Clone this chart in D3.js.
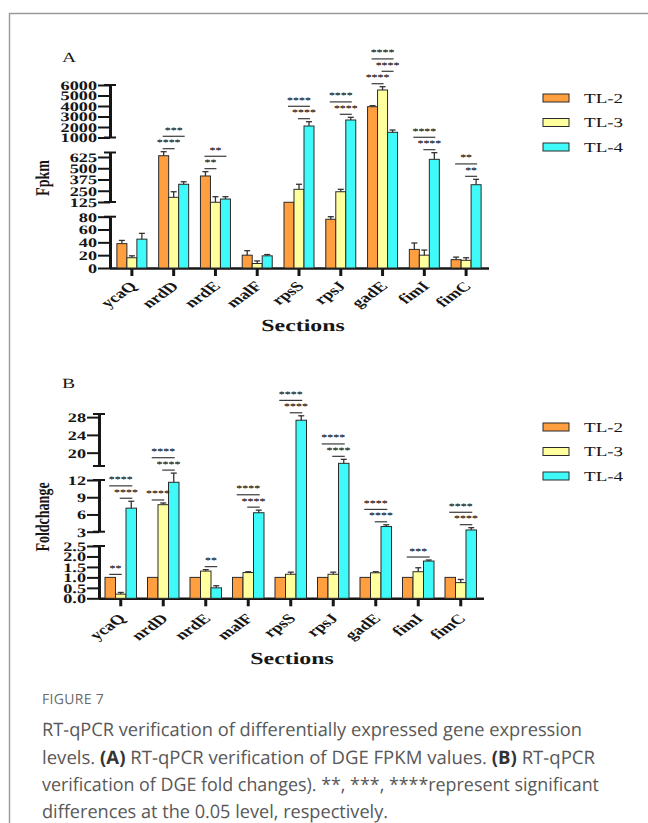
<!DOCTYPE html>
<html>
<head>
<meta charset="utf-8">
<script src="https://cdn.jsdelivr.net/npm/d3@7"></script>
<style>
  body { margin: 0; background: #fff; }
  svg { display: block; }
  text { text-rendering: geometricPrecision; -webkit-font-smoothing: antialiased; }
</style>
</head>
<body>
<svg id="fig" width="648" height="823"></svg>
<script>
// ---------- data ----------
const categories = ["ycaQ", "nrdD", "nrdE", "malF", "rpsS", "rpsJ", "gadE", "fimI", "fimC"];
const seriesNames = ["TL-2", "TL-3", "TL-4"];

// Panel A: FPKM (mean and SD)
const fpkmTL2 = [38, 639, 414, 20, 122, 76, 3933, 29, 13];
const fpkmTL3 = [16, 177, 122, 7, 266, 239, 5524, 20, 12];
const fpkmTL4 = [45, 322, 158, 19, 2095, 2667, 1495, 599, 317];
const fpkmSdTL2 = [5, 45, 48, 7, 0, 4, 96, 10, 4];
const fpkmSdTL3 = [3, 62, 62, 4, 56, 27, 314, 8, 4];
const fpkmSdTL4 = [9, 28, 26, 2, 410, 257, 219, 74, 60];

// Panel A broken y axis: segment domains (top to bottom) and tick values
const fpkmBreaks = [[1000, 6000], [125, 675], [0, 80]];
const fpkmTicks = [[1000, 2000, 3000, 4000, 5000, 6000], [125, 250, 375, 500, 625], [0, 20, 40, 60, 80]];

// Panel B: fold change (mean and SD)
const foldTL2 = [1, 1, 1, 1, 1, 1, 1, 1, 1];
const foldTL3 = [0.2, 7.7, 1.3, 1.23, 1.15, 1.15, 1.22, 1.27, 0.75];
const foldTL4 = [7.1, 11.6, 0.5, 6.3, 27.3, 17.6, 3.9, 1.78, 3.3];
const foldSdTL2 = [0, 0, 0, 0, 0, 0, 0, 0, 0];
const foldSdTL3 = [0.08, 0.3, 0.07, 0.04, 0.1, 0.1, 0.05, 0.19, 0.15];
const foldSdTL4 = [1.2, 1.6, 0.1, 0.45, 1.0, 0.9, 0.3, 0.05, 0.4];

const foldBreaks = [[17, 28.7], [3, 12], [0, 2.5]];
const foldTicks = [[20, 24, 28], [3, 6, 9, 12], [0, 0.5, 1.0, 1.5, 2.0, 2.5]];

// Significance marks: [gene, compared pair, stars]; pair "12" = TL-2 vs TL-3, "23" = TL-3 vs TL-4, "13" = TL-2 vs TL-4
const fpkmSig = [
  ["nrdD", "12", "****"], ["nrdD", "13", "***"],
  ["nrdE", "12", "**"], ["nrdE", "13", "**"],
  ["rpsS", "23", "****"], ["rpsS", "13", "****"],
  ["rpsJ", "23", "****"], ["rpsJ", "13", "****"],
  ["gadE", "12", "****"], ["gadE", "23", "****"], ["gadE", "13", "****"],
  ["fimI", "23", "****"], ["fimI", "13", "****"],
  ["fimC", "23", "**"], ["fimC", "13", "**"]
];
const foldSig = [
  ["ycaQ", "12", "**"], ["ycaQ", "23", "****"], ["ycaQ", "13", "****"],
  ["nrdD", "12", "****"], ["nrdD", "23", "****"], ["nrdD", "13", "****"],
  ["nrdE", "23", "**"],
  ["malF", "23", "****"], ["malF", "13", "****"],
  ["rpsS", "23", "****"], ["rpsS", "13", "****"],
  ["rpsJ", "23", "****"], ["rpsJ", "13", "****"],
  ["gadE", "23", "****"], ["gadE", "13", "****"],
  ["fimI", "13", "***"],
  ["fimC", "23", "****"], ["fimC", "13", "****"]
];

// ---------- styling ----------
const colors = ["#FF9F40", "#FFFF9E", "#40FAFA"];
const SERIF = "'Liberation Serif', 'Times New Roman', serif";
const SX = 1.4;           // horizontal stretch applied to all chart lettering
const INK = "#161616";

const svg = d3.select("#fig");
svg.append("rect").attr("width", 648).attr("height", 823).attr("fill", "#fff");
svg.append("path").attr("d", "M9.5,823 V13.5 H648").attr("fill", "none")
  .attr("stroke", "#9a9a9a").attr("stroke-width", 1.4);

function stretch(x, y, rot) {
  return `translate(${x},${y}) scale(${SX},1)` + (rot ? ` rotate(${rot})` : "");
}

function segmentedScale(breaks, ranges) {
  const scales = breaks.map((d, i) => d3.scaleLinear().domain(d).range(ranges[i]));
  const f = v => {
    let best = 0, bestD = Infinity;
    breaks.forEach((d, i) => {
      const dist = v < d[0] ? d[0] - v : v > d[1] ? v - d[1] : 0;
      if (dist < bestD) { bestD = dist; best = i; }
    });
    return scales[best](v);
  };
  f.parts = scales;
  return f;
}

function drawPanel(p) {
  const g = svg.append("g");
  const y = segmentedScale(p.breaks, p.ranges);
  const base = p.ranges[p.ranges.length - 1][0];

  const x0 = d3.scaleBand().domain(categories).range(p.xRange);
  const x1 = d3.scaleBand().domain(seriesNames).range([-1.5 * p.barW, 1.5 * p.barW]);
  const cx = c => x0(c) + x0.bandwidth() / 2;
  const barMid = (c, s) => cx(c) + x1(s) + x1.bandwidth() / 2;

  // y axis segments
  p.breaks.forEach((d, i) => {
    const sc = y.parts[i];
    const ax = g.append("g").attr("transform", `translate(${p.axisX},0)`)
      .call(d3.axisLeft(sc).tickValues(p.ticks[i]).tickFormat(p.fmt[i])
        .tickSizeInner(12).tickSizeOuter(0).tickPadding(0));
    ax.attr("font-family", SERIF).attr("font-size", 13).attr("font-weight", "bold");
    ax.select(".domain").attr("stroke", INK).attr("stroke-width", 3);
    ax.selectAll(".tick line").attr("stroke", INK).attr("stroke-width", 2);
    ax.selectAll(".tick text").attr("x", 0).attr("dy", "0.34em").attr("fill", INK)
      .attr("transform", stretch(-13, 0));
    // end caps of each segment
    const ends = i === p.breaks.length - 1 ? [d[1]] : d;
    ends.forEach(v => {
      g.append("line").attr("x1", p.axisX - 6).attr("x2", p.axisX + 6)
        .attr("y1", sc(v)).attr("y2", sc(v)).attr("stroke", INK).attr("stroke-width", 2);
    });
  });

  // x axis
  const xa = g.append("g").attr("transform", `translate(0,${base})`)
    .call(d3.axisBottom(x0).tickSizeInner(8).tickSizeOuter(0));
  xa.attr("font-family", SERIF).attr("font-size", 13.5).attr("font-weight", "bold");
  xa.select(".domain").attr("stroke", INK).attr("stroke-width", 2.5)
    .attr("d", `M${p.axisX},0.5H${p.xRange[1] + 2}`);
  xa.selectAll(".tick line").attr("stroke", INK).attr("stroke-width", 3);
  xa.selectAll(".tick text").attr("x", 0).attr("y", 0).attr("dy", null)
    .attr("text-anchor", "end").attr("fill", INK)
    .attr("transform", stretch(6, p.catLabelDy, -45));

  // bars
  const rows = categories.map((c, i) => ({ c, vals: p.values.map(v => v[i]), sds: p.sds.map(v => v[i]) }));
  const grp = g.append("g").selectAll("g").data(rows).join("g");
  grp.selectAll("rect").data(r => seriesNames.map((s, k) => ({ c: r.c, s, k, v: r.vals[k], sd: r.sds[k] })))
    .join("rect")
    .attr("x", d => cx(d.c) + x1(d.s))
    .attr("width", x1.bandwidth())
    .attr("y", d => y(d.v))
    .attr("height", d => base - y(d.v))
    .attr("fill", d => colors[d.k])
    .attr("stroke", "#2a2a2a").attr("stroke-width", 1);

  // error bars (upper half)
  const errTop = {};
  rows.forEach(r => {
    errTop[r.c] = r.vals.map((v, k) => y(v + r.sds[k]));
    r.vals.forEach((v, k) => {
      if (r.sds[k] <= 0) return;
      const xm = barMid(r.c, seriesNames[k]);
      const yt = y(v + r.sds[k]);
      g.append("line").attr("x1", xm).attr("x2", xm).attr("y1", y(v)).attr("y2", yt)
        .attr("stroke", "#333").attr("stroke-width", 1.3);
      g.append("line").attr("x1", xm - 3).attr("x2", xm + 3).attr("y1", yt).attr("y2", yt)
        .attr("stroke", "#333").attr("stroke-width", 1.3);
    });
  });

  // significance brackets, stacked above the bars they compare
  const placed = [];
  const order = { "12": 0, "23": 1, "13": 2 };
  p.sig.slice().sort((a, b) => categories.indexOf(a[0]) - categories.indexOf(b[0]) || order[a[1]] - order[b[1]])
    .forEach(([c, pair, stars]) => {
      const a = +pair[0] - 1, b = +pair[1] - 1;
      const xa1 = barMid(c, seriesNames[a]) - 1, xb1 = barMid(c, seriesNames[b]) + 1;
      let ly = d3.min(errTop[c].slice(a, b + 1)) - 3;
      placed.filter(q => q.c === c && q.x1 <= xb1 && q.x2 >= xa1)
        .forEach(q => { ly = Math.min(ly, q.y - 12.4); });
      placed.push({ c, x1: xa1, x2: xb1, y: ly });
      g.append("line").attr("x1", xa1).attr("x2", xb1).attr("y1", ly).attr("y2", ly)
        .attr("stroke", "#3a3a3a").attr("stroke-width", 1.2);
      g.append("text").text(stars).attr("text-anchor", "middle")
        .attr("font-family", SERIF).attr("font-size", 8.5).attr("font-weight", "bold").attr("fill", "#222")
        .attr("transform", stretch((xa1 + xb1) / 2, ly - 3.5));
    });

  // titles
  g.append("text").text(p.label).attr("font-family", SERIF).attr("font-size", 14).attr("fill", INK)
    .attr("transform", stretch(p.labelPos[0], p.labelPos[1]));
  g.append("text").text(p.yTitle).attr("text-anchor", "middle").attr("dy", "0.35em")
    .attr("font-family", SERIF).attr("font-size", 14).attr("font-weight", "bold").attr("fill", INK)
    .attr("transform", stretch(p.yTitlePos[0], p.yTitlePos[1], -90));
  g.append("text").text("Sections").attr("text-anchor", "middle")
    .attr("font-family", SERIF).attr("font-size", 17).attr("font-weight", "bold").attr("fill", INK)
    .attr("transform", stretch(p.xTitlePos[0], p.xTitlePos[1]));

  // legend
  seriesNames.forEach((s, k) => {
    const ly = p.legendY[k];
    g.append("rect").attr("x", 543).attr("y", ly - 4).attr("width", 26).attr("height", 8)
      .attr("fill", colors[k]).attr("stroke", "#2a2a2a").attr("stroke-width", 1);
    g.append("text").text(s).attr("font-family", SERIF).attr("font-size", 13.6).attr("fill", INK)
      .attr("transform", stretch(584, ly + 4.6));
  });
}

drawPanel({
  breaks: fpkmBreaks, ticks: fpkmTicks,
  ranges: [[137.5, 85], [202, 152.5], [268, 216.7]],
  fmt: [d3.format("d"), d3.format("d"), d3.format("d")],
  xRange: [111, 487], axisX: 110, barW: 10, catLabelDy: 19,
  values: [fpkmTL2, fpkmTL3, fpkmTL4], sds: [fpkmSdTL2, fpkmSdTL3, fpkmSdTL4],
  sig: fpkmSig,
  label: "A", labelPos: [62, 62],
  yTitle: "Fpkm", yTitlePos: [42, 178],
  xTitlePos: [303, 331],
  legendY: [98, 122.5, 147]
});

drawPanel({
  breaks: foldBreaks, ticks: foldTicks,
  ranges: [[466, 414], [531.7, 480], [598.3, 546]],
  fmt: [d3.format("d"), d3.format("d"), d3.format(".1f")],
  xRange: [99.5, 482], axisX: 99, barW: 10.5, catLabelDy: 21,
  values: [foldTL2, foldTL3, foldTL4], sds: [foldSdTL2, foldSdTL3, foldSdTL4],
  sig: foldSig,
  label: "B", labelPos: [62, 388],
  yTitle: "Foldchange", yTitlePos: [42, 517],
  xTitlePos: [292, 664],
  legendY: [427, 451.5, 476]
});

// ---------- caption ----------
const SANS = "'Open Sans', 'Noto Sans', sans-serif";
svg.append("text").text("FIGURE 7").attr("x", 42).attr("y", 704)
  .attr("font-family", SANS).attr("font-size", 14).attr("fill", "#6a6a6a").attr("letter-spacing", 0.3);

const captionLines = [
  { y: 736, w: 540, parts: [["RT-qPCR verification of differentially expressed gene expression", false]] },
  { y: 764, w: 553, parts: [["levels. ", false], ["(A)", true], [" RT-qPCR verification of DGE FPKM values. ", false], ["(B)", true], [" RT-qPCR", false]] },
  { y: 791, w: 557, parts: [["verification of DGE fold changes). **, ***, ****represent significant", false]] },
  { y: 818, w: 346, parts: [["differences at the 0.05 level, respectively.", false]] }
];
captionLines.forEach(l => {
  const t = svg.append("text").attr("x", 42).attr("y", l.y)
    .attr("font-family", SANS).attr("font-size", 18.5).attr("fill", "#585858")
    .attr("textLength", l.w).attr("lengthAdjust", "spacingAndGlyphs");
  l.parts.forEach(([s, b]) => {
    t.append("tspan").text(s).attr("font-weight", b ? "bold" : null).attr("fill", b ? "#333" : null);
  });
});
</script>
</body>
</html>
